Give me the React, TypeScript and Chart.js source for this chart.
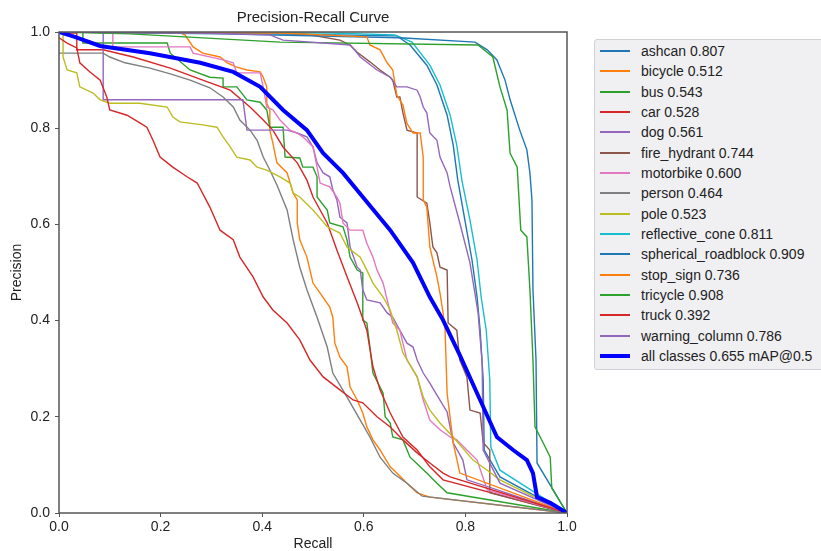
import React, { useEffect, useRef } from 'react';
import { Chart, registerables } from 'chart.js';

Chart.register(...registerables);

type PR = [number, number][];

const FONT = '"Liberation Sans", Arial, Helvetica, sans-serif';

const classNames = [
  'ashcan', 'bicycle', 'bus', 'car', 'dog', 'fire_hydrant', 'motorbike', 'person',
  'pole', 'reflective_cone', 'spherical_roadblock', 'stop_sign', 'tricycle', 'truck', 'warning_column',
];
const classAP = ['0.807', '0.512', '0.543', '0.528', '0.561', '0.744', '0.600', '0.464',
  '0.523', '0.811', '0.909', '0.736', '0.908', '0.392', '0.786'];
const classColors = ['#1f77b4', '#ff7f0e', '#2ca02c', '#d62728', '#9467bd', '#8c564b', '#e377c2', '#7f7f7f',
  '#bcbd22', '#17becf', '#1f77b4', '#ff7f0e', '#2ca02c', '#d62728', '#9467bd'];
const allLabel = 'all classes 0.655 mAP@0.5';
const allColor = '#0000ff';

const xTickLabels = ['0.0', '0.2', '0.4', '0.6', '0.8', '1.0'];

// [recall, precision]
const ashcan: PR = [[0, 1], [0.313, 0.998], [0.665, 0.992], [0.691, 0.973], [0.724, 0.931], [0.744, 0.89], [0.764, 0.827], [0.776, 0.765], [0.785, 0.692], [0.799, 0.609], [0.813, 0.526], [0.823, 0.449], [0.829, 0.38], [0.835, 0.277], [0.837, 0.131], [0.868, 0.075], [1, 0]];
const bicycle: PR = [[0, 1], [0.238, 0.998], [0.248, 0.994], [0.264, 0.969], [0.283, 0.956], [0.317, 0.948], [0.331, 0.936], [0.35, 0.927], [0.37, 0.921], [0.396, 0.917], [0.402, 0.906], [0.409, 0.886], [0.409, 0.852], [0.415, 0.838], [0.415, 0.796], [0.421, 0.769], [0.429, 0.728], [0.449, 0.707], [0.455, 0.686], [0.461, 0.665], [0.469, 0.651], [0.469, 0.603], [0.474, 0.568], [0.488, 0.532], [0.494, 0.505], [0.5, 0.478], [0.514, 0.457], [0.533, 0.428], [0.539, 0.407], [0.543, 0.353], [0.553, 0.324], [0.567, 0.304], [0.573, 0.262], [0.587, 0.235], [0.598, 0.208], [0.606, 0.179], [0.618, 0.152], [0.632, 0.131], [0.652, 0.096], [0.665, 0.083], [0.685, 0.062], [0.705, 0.042], [0.73, 0.033], [1, 0]];
const bus: PR = [[0, 1], [0.047, 1], [0.047, 0.977], [0.213, 0.977], [0.219, 0.956], [0.258, 0.921], [0.297, 0.906], [0.323, 0.904], [0.323, 0.886], [0.35, 0.886], [0.37, 0.859], [0.396, 0.854], [0.409, 0.838], [0.415, 0.802], [0.441, 0.802], [0.445, 0.74], [0.474, 0.738], [0.48, 0.719], [0.5, 0.719], [0.508, 0.699], [0.508, 0.657], [0.528, 0.63], [0.533, 0.603], [0.559, 0.595], [0.567, 0.568], [0.573, 0.532], [0.587, 0.505], [0.598, 0.499], [0.598, 0.401], [0.606, 0.395], [0.612, 0.345], [0.618, 0.291], [0.638, 0.249], [0.642, 0.2], [0.652, 0.187], [0.657, 0.158], [0.677, 0.152], [0.691, 0.116], [0.711, 0.096], [0.724, 0.083], [0.744, 0.062], [0.764, 0.042], [1, 0]];
const car: PR = [[0, 0.998], [0.035, 0.998], [0.035, 0.963], [0.087, 0.963], [0.146, 0.948], [0.219, 0.925], [0.283, 0.9], [0.337, 0.879], [0.376, 0.844], [0.402, 0.817], [0.421, 0.796], [0.441, 0.761], [0.469, 0.728], [0.488, 0.692], [0.5, 0.657], [0.528, 0.603], [0.547, 0.547], [0.567, 0.491], [0.587, 0.437], [0.606, 0.38], [0.618, 0.304], [0.632, 0.256], [0.652, 0.208], [0.677, 0.158], [0.705, 0.131], [0.73, 0.096], [0.756, 0.069], [1, 0]];
const dog: PR = [[0, 1], [0.087, 1], [0.087, 0.859], [0.362, 0.859], [0.37, 0.796], [0.449, 0.796], [0.469, 0.79], [0.488, 0.782], [0.5, 0.761], [0.508, 0.728], [0.52, 0.707], [0.533, 0.699], [0.539, 0.672], [0.547, 0.651], [0.553, 0.615], [0.567, 0.603], [0.573, 0.553], [0.587, 0.511], [0.593, 0.505], [0.598, 0.464], [0.606, 0.443], [0.632, 0.437], [0.646, 0.416], [0.657, 0.407], [0.671, 0.38], [0.685, 0.353], [0.697, 0.345], [0.705, 0.318], [0.717, 0.291], [0.73, 0.27], [0.744, 0.245], [0.764, 0.21], [0.776, 0.146], [0.795, 0.11], [0.803, 0.069], [1, 0]];
const fireHydrant: PR = [[0, 1], [0.474, 0.998], [0.553, 0.983], [0.573, 0.973], [0.587, 0.958], [0.612, 0.938], [0.632, 0.921], [0.652, 0.906], [0.657, 0.9], [0.665, 0.865], [0.671, 0.865], [0.677, 0.832], [0.685, 0.796], [0.705, 0.79], [0.705, 0.657], [0.724, 0.644], [0.73, 0.603], [0.736, 0.553], [0.744, 0.541], [0.75, 0.511], [0.764, 0.505], [0.766, 0.395], [0.783, 0.38], [0.789, 0.318], [0.803, 0.283], [0.809, 0.214], [0.829, 0.208], [0.835, 0.146], [0.848, 0.131], [0.848, 0.042], [1, 0]];
const motorbike: PR = [[0, 1], [0.106, 1], [0.106, 0.969], [0.258, 0.969], [0.264, 0.956], [0.323, 0.942], [0.343, 0.936], [0.35, 0.915], [0.396, 0.915], [0.402, 0.886], [0.409, 0.844], [0.421, 0.838], [0.435, 0.817], [0.455, 0.796], [0.469, 0.79], [0.48, 0.782], [0.5, 0.761], [0.508, 0.719], [0.514, 0.686], [0.533, 0.678], [0.547, 0.657], [0.553, 0.644], [0.559, 0.603], [0.573, 0.588], [0.598, 0.588], [0.606, 0.561], [0.618, 0.532], [0.626, 0.505], [0.638, 0.478], [0.646, 0.443], [0.657, 0.395], [0.671, 0.38], [0.677, 0.353], [0.685, 0.318], [0.705, 0.283], [0.717, 0.235], [0.73, 0.193], [0.75, 0.173], [0.77, 0.158], [0.783, 0.152], [0.823, 0.11], [0.843, 0.048], [1, 0]];
const person: PR = [[0, 0.956], [0.087, 0.956], [0.1, 0.948], [0.13, 0.936], [0.179, 0.925], [0.219, 0.913], [0.258, 0.9], [0.297, 0.884], [0.323, 0.865], [0.343, 0.844], [0.356, 0.817], [0.376, 0.796], [0.39, 0.775], [0.402, 0.74], [0.415, 0.713], [0.429, 0.682], [0.449, 0.63], [0.461, 0.568], [0.474, 0.511], [0.488, 0.464], [0.508, 0.407], [0.528, 0.345], [0.539, 0.291], [0.567, 0.241], [0.593, 0.193], [0.612, 0.158], [0.632, 0.116], [0.657, 0.083], [0.685, 0.062], [0.715, 0.035], [1, 0]];
const pole: PR = [[0, 0.998], [0.008, 0.998], [0.008, 0.948], [0.016, 0.921], [0.035, 0.915], [0.041, 0.886], [0.067, 0.873], [0.081, 0.859], [0.1, 0.852], [0.159, 0.852], [0.213, 0.844], [0.224, 0.823], [0.238, 0.813], [0.283, 0.807], [0.311, 0.802], [0.323, 0.782], [0.337, 0.761], [0.35, 0.74], [0.376, 0.734], [0.39, 0.719], [0.409, 0.713], [0.435, 0.699], [0.455, 0.686], [0.461, 0.665], [0.474, 0.657], [0.5, 0.63], [0.528, 0.595], [0.553, 0.582], [0.567, 0.553], [0.593, 0.532], [0.606, 0.505], [0.618, 0.478], [0.638, 0.449], [0.652, 0.422], [0.665, 0.38], [0.677, 0.333], [0.705, 0.283], [0.717, 0.241], [0.73, 0.214], [0.75, 0.187], [0.776, 0.158], [0.815, 0.11], [0.843, 0.089], [0.868, 0.069], [1, 0]];
const reflectiveCone: PR = [[0, 1], [0.533, 0.998], [0.661, 0.994], [0.695, 0.979], [0.73, 0.931], [0.75, 0.89], [0.77, 0.827], [0.783, 0.765], [0.793, 0.692], [0.809, 0.609], [0.823, 0.526], [0.831, 0.449], [0.841, 0.38], [0.848, 0.277], [0.85, 0.137], [0.868, 0.089], [1, 0]];
const sphericalRoadblock: PR = [[0, 1], [0.317, 0.996], [0.671, 0.988], [0.819, 0.979], [0.843, 0.963], [0.862, 0.942], [0.878, 0.9], [0.888, 0.859], [0.907, 0.796], [0.921, 0.755], [0.927, 0.707], [0.931, 0.651], [0.933, 0.464], [0.939, 0.318], [0.941, 0.104], [1, 0]];
const stopSign: PR = [[0, 1], [0.435, 0.998], [0.606, 0.99], [0.612, 0.973], [0.632, 0.963], [0.646, 0.936], [0.657, 0.921], [0.665, 0.869], [0.677, 0.848], [0.685, 0.81], [0.697, 0.79], [0.711, 0.79], [0.717, 0.74], [0.717, 0.651], [0.724, 0.636], [0.73, 0.553], [0.736, 0.526], [0.744, 0.491], [0.75, 0.457], [0.756, 0.416], [0.76, 0.38], [0.764, 0.249], [0.776, 0.146], [0.789, 0.083], [1, 0]];
const tricycle: PR = [[0, 1], [0.14, 0.996], [0.435, 0.979], [0.825, 0.973], [0.854, 0.948], [0.868, 0.886], [0.882, 0.838], [0.888, 0.748], [0.902, 0.719], [0.909, 0.588], [0.921, 0.574], [0.927, 0.464], [0.933, 0.318], [0.937, 0.179], [0.953, 0.146], [0.967, 0.116], [0.97, 0.052], [1, 0]];
const truck: PR = [[0, 0.988], [0.016, 0.977], [0.035, 0.967], [0.041, 0.936], [0.061, 0.917], [0.081, 0.9], [0.094, 0.865], [0.1, 0.838], [0.134, 0.827], [0.159, 0.811], [0.173, 0.802], [0.185, 0.775], [0.199, 0.74], [0.224, 0.719], [0.252, 0.699], [0.272, 0.686], [0.297, 0.636], [0.317, 0.588], [0.343, 0.568], [0.356, 0.532], [0.382, 0.491], [0.402, 0.449], [0.421, 0.422], [0.449, 0.395], [0.474, 0.36], [0.494, 0.318], [0.52, 0.283], [0.553, 0.256], [0.579, 0.235], [0.598, 0.229], [0.626, 0.2], [0.652, 0.179], [0.677, 0.152], [0.705, 0.125], [0.73, 0.104], [0.756, 0.083], [0.77, 0.075], [1, 0]];
const warningColumn: PR = [[0, 1], [0.278, 0.998], [0.415, 0.994], [0.441, 0.983], [0.573, 0.973], [0.587, 0.956], [0.593, 0.948], [0.626, 0.921], [0.652, 0.906], [0.665, 0.886], [0.685, 0.886], [0.705, 0.879], [0.711, 0.865], [0.717, 0.844], [0.724, 0.832], [0.73, 0.79], [0.744, 0.775], [0.75, 0.74], [0.764, 0.707], [0.77, 0.678], [0.789, 0.603], [0.809, 0.52], [0.825, 0.416], [0.833, 0.312], [0.835, 0.131], [0.868, 0.062], [1, 0]];
const allClasses: PR = [[0, 1], [0.031, 0.99], [0.081, 0.971], [0.179, 0.956], [0.278, 0.936], [0.343, 0.917], [0.396, 0.886], [0.441, 0.838], [0.488, 0.796], [0.52, 0.748], [0.559, 0.707], [0.598, 0.657], [0.652, 0.588], [0.697, 0.52], [0.73, 0.449], [0.756, 0.401], [0.789, 0.328], [0.829, 0.235], [0.862, 0.158], [0.894, 0.131], [0.921, 0.11], [0.933, 0.083], [0.941, 0.033], [0.967, 0.021], [1, 0]];

const classCurves: PR[] = [ashcan, bicycle, bus, car, dog, fireHydrant, motorbike, person, pole,
  reflectiveCone, sphericalRoadblock, stopSign, tricycle, truck, warningColumn];

const framePlugin = {
  id: 'frameBox',
  afterDatasetsDraw(chart: any) {
    const { ctx, chartArea: a } = chart;
    ctx.save();
    ctx.strokeStyle = '#555555';
    ctx.lineWidth = 1.5;
    ctx.strokeRect(a.left, a.top, a.right - a.left, a.bottom - a.top);
    ctx.restore();
  },
};

export default function App() {
  const ref = useRef<HTMLCanvasElement | null>(null);

  useEffect(() => {
    if (!ref.current) return;
    const datasets: any[] = [
      {
        label: allLabel,
        data: allClasses.map(([x, y]) => ({ x, y })),
        borderColor: allColor,
        backgroundColor: allColor,
        borderWidth: 4,
        pointRadius: 0,
        tension: 0,
        fill: false,
        order: 0,
      },
      ...classCurves.map((c, i) => ({
        label: `${classNames[i]} ${classAP[i]}`,
        data: c.map(([x, y]) => ({ x, y })),
        borderColor: classColors[i],
        backgroundColor: classColors[i],
        borderWidth: 1.4,
        pointRadius: 0,
        tension: 0,
        fill: false,
        order: 100 - i,
      })),
    ];
    const tickFont = { family: FONT, size: 14 };
    const chart = new Chart(ref.current, {
      type: 'line',
      data: { datasets },
      options: {
        animation: false,
        responsive: false,
        maintainAspectRatio: false,
        layout: { padding: { left: 0, top: 0, right: 254, bottom: 0 } },
        plugins: {
          legend: { display: false },
          tooltip: { enabled: false },
          title: {
            display: true,
            text: 'Precision-Recall Curve',
            fullSize: false,
            color: '#222',
            font: { family: FONT, size: 15, weight: 'normal', lineHeight: 1.2 },
            padding: { top: 9, bottom: 5 },
          },
        },
        scales: {
          x: {
            type: 'linear',
            min: 0,
            max: 1,
            border: { display: false },
            grid: { drawOnChartArea: false, drawTicks: true, tickLength: 4, color: '#555', lineWidth: 1 },
            ticks: {
              stepSize: 0.2,
              padding: 2,
              color: '#222',
              font: tickFont,
              maxRotation: 0,
              callback: (v: any) => {
                const i = Math.round(Number(v) / 0.2);
                return xTickLabels[i] ?? Number(v).toFixed(1);
              },
            },
            title: { display: true, text: 'Recall', color: '#222', font: { family: FONT, size: 14, lineHeight: 1 }, padding: { top: 0, bottom: 0 } },
            afterFit: (s: any) => { s.height = 38; },
          },
          y: {
            type: 'linear',
            min: 0,
            max: 1,
            border: { display: false },
            grid: { drawOnChartArea: false, drawTicks: true, tickLength: 4, color: '#555', lineWidth: 1 },
            ticks: {
              stepSize: 0.2,
              padding: 5,
              color: '#222',
              font: tickFont,
              callback: (v: any) => Number(v).toFixed(1),
            },
            title: { display: true, text: 'Precision', color: '#222', font: { family: FONT, size: 14, lineHeight: 1 }, padding: { top: 10, bottom: 0 } },
            afterFit: (s: any) => { s.width = 59; },
          },
        },
      },
      plugins: [framePlugin],
    } as any);
    return () => chart.destroy();
  }, []);

  const legendItems = [
    ...classNames.map((n, i) => ({ text: `${n} ${classAP[i]}`, color: classColors[i], w: 2 })),
    { text: allLabel, color: allColor, w: 4 },
  ];

  return (
    <div style={{ position: 'fixed', left: 0, top: 0, width: 821, height: 551, overflow: 'hidden', background: '#fff' }}>
      <canvas ref={ref} width={821} height={551} style={{ display: 'block', width: 821, height: 551 }} />
      <div
        style={{
          position: 'absolute', left: 594, top: 39, width: 245, height: 331,
          background: '#f0f0f3', border: '1px solid #d2d2d6', borderRadius: 3, boxSizing: 'border-box',
        }}
      />
      {legendItems.map((it, i) => (
        <div
          key={it.text}
          style={{
            position: 'absolute', left: 600, top: Math.round(51 + i * 20.33 - 10), height: 20,
            display: 'flex', alignItems: 'center', whiteSpace: 'nowrap',
          }}
        >
          <span style={{ display: 'inline-block', flex: 'none', width: 30, height: it.w, background: it.color }} />
          <span style={{ marginLeft: 11, font: `14px ${FONT}`, color: '#222', lineHeight: '20px' }}>{it.text}</span>
        </div>
      ))}
    </div>
  );
}
